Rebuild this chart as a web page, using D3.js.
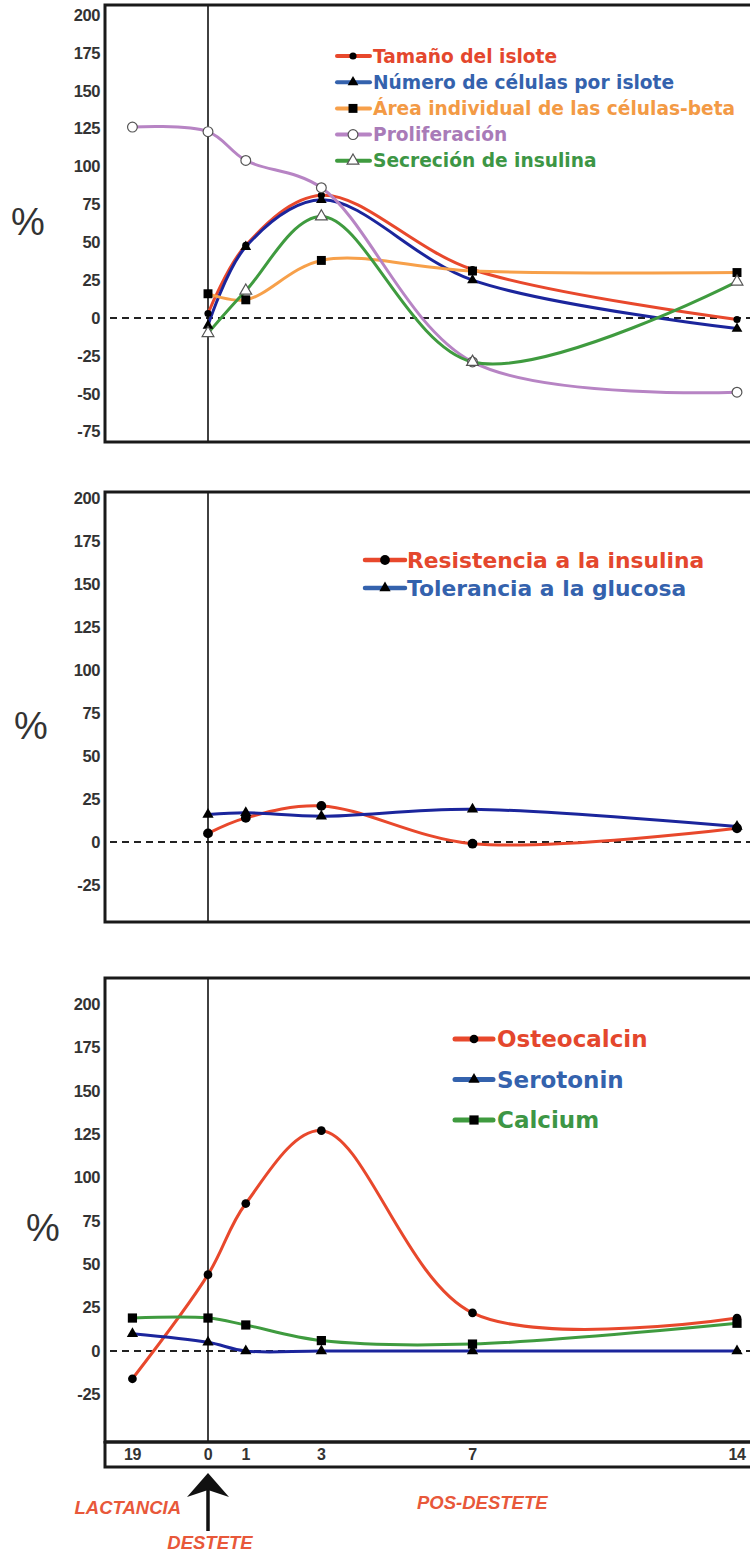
<!DOCTYPE html>
<html>
<head>
<meta charset="utf-8">
<script src="https://cdn.jsdelivr.net/npm/d3@7"></script>
<style>
  body { margin: 0; background: #fff; }
  svg { display: block; font-family: "Liberation Sans", Arial, sans-serif; }
  .legend-text { font-family: "DejaVu Sans", Verdana, sans-serif; }
</style>
</head>
<body>
<svg id="chart"></svg>
<script>
/* DATA */
// x positions: "19" is the last lactation day, plotted two days before weaning
const dayPos = [-2, 0, 1, 3, 7, 14];
const dayLabels = ["19", "0", "1", "3", "7", "14"];

// panel 1 - islote
const tamano = [null, 3, 48, 81, 32, -1];
const numero = [null, -5, 47, 78, 25, -7];
const area = [null, 16, 12, 38, 31, 30];
const prolif = [126, 123, 104, 86, -29, -49];
const secrecion = [null, -10, 18, 67, -29, 24];

// panel 2 - sensibilidad
const resistencia = [null, 5, 14, 21, -1, 8];
const tolerancia = [null, 16, 17, 15, 19, 9];

// panel 3 - hueso
const osteocalcin = [-16, 44, 85, 127, 22, 19];
const serotonin = [10, 5, 0, 0, 0, 0];
const calcium = [19, 19, 15, 6, 4, 16];

const yTicks = [-75, -50, -25, 0, 25, 50, 75, 100, 125, 150, 175, 200];

/* LAYOUT */
const width = 750, height = 1554;
const frameLeft = 105, frameRight = 760;

const svg = d3.select("#chart").attr("width", width).attr("height", height);

const x = d3.scaleLinear().domain([0, 14]).range([208, 737]);

const panels = [
  { top: 5, bottom: 442, zero: 318, y200: 15, pct: [28, 222],
    legend: { x0: 337, x1: 370, mx: 353, tx: 373, y: 56, dy: 26.2, font: 18.6, lw: 4 },
    series: [
      { name: "Tamaño del islote", values: tamano, color: "#e8482c", text: "#e4472d", legendLine: "#e8482c", shape: d3.symbolCircle, size: 40, fill: "#000" },
      { name: "Número de células por islote", values: numero, color: "#1b259c", text: "#3462ad", legendLine: "#3462ad", shape: d3.symbolTriangle, size: 50, fill: "#000" },
      { name: "Área individual de las células-beta", values: area, color: "#f7a04a", text: "#f39a45", legendLine: "#f7a04a", shape: d3.symbolSquare, size: 80, fill: "#000" },
      { name: "Proliferación", values: prolif, color: "#b784c4", text: "#a97bb8", legendLine: "#b784c4", shape: d3.symbolCircle, size: 75, fill: "#fff" },
      { name: "Secreción de insulina", values: secrecion, color: "#3f9b3f", text: "#3d9645", legendLine: "#3f9b3f", shape: d3.symbolTriangle, size: 60, fill: "#fff" }
    ] },
  { top: 492, bottom: 922, zero: 842, y200: 498, pct: [31, 726],
    legend: { x0: 365, x1: 405, mx: 385, tx: 407, y: 560, dy: 28, font: 21.8, lw: 4.5 },
    series: [
      { name: "Resistencia a la insulina", values: resistencia, color: "#e8482c", text: "#e4472d", legendLine: "#e8482c", shape: d3.symbolCircle, size: 75, fill: "#000" },
      { name: "Tolerancia a la glucosa", values: tolerancia, color: "#1b259c", text: "#3462ad", legendLine: "#3462ad", shape: d3.symbolTriangle, size: 55, fill: "#000" }
    ] },
  { top: 978, bottom: 1442, zero: 1351, y200: 1004, pct: [43, 1228],
    legend: { x0: 455, x1: 493, mx: 474, tx: 497, y: 1039, dy: 40.5, font: 23, lw: 5 },
    series: [
      { name: "Osteocalcin", values: osteocalcin, color: "#e8482c", text: "#e4472d", legendLine: "#e8482c", shape: d3.symbolCircle, size: 60, fill: "#000" },
      { name: "Serotonin", values: serotonin, color: "#1b259c", text: "#3462ad", legendLine: "#3462ad", shape: d3.symbolTriangle, size: 55, fill: "#000" },
      { name: "Calcium", values: calcium, color: "#3f9b3f", text: "#3d9645", legendLine: "#3f9b3f", shape: d3.symbolSquare, size: 85, fill: "#000" }
    ] }
];

const line = d3.line()
  .x(d => x(d.day))
  .y(d => d.yv)
  .curve(d3.curveCatmullRom.alpha(0.5));

panels.forEach(p => {
  const y = d3.scaleLinear().domain([0, 200]).range([p.zero, p.y200]);
  const g = svg.append("g");

  // y tick labels (only those well inside the frame)
  const ticks = yTicks.filter(t => y(t) > p.top + 4 && y(t) < p.bottom - 8);
  g.selectAll(".tick")
    .data(ticks)
    .enter()
    .append("text")
      .attr("x", frameLeft - 5)
      .attr("y", d => y(d))
      .attr("dy", "0.35em")
      .attr("text-anchor", "end")
      .attr("font-size", 16.5)
      .attr("font-weight", "bold")
      .attr("letter-spacing", "-0.4")
      .attr("fill", "#333")
      .text(d => d);

  // % label
  g.append("text")
    .attr("x", p.pct[0])
    .attr("y", p.pct[1])
    .attr("dy", "0.35em")
    .attr("text-anchor", "middle")
    .attr("font-size", 38)
    .attr("fill", "#333")
    .text("%");

  // zero line
  g.append("line")
    .attr("x1", frameLeft + 5).attr("x2", frameRight)
    .attr("y1", y(0)).attr("y2", y(0))
    .attr("stroke", "#222")
    .attr("stroke-width", 2)
    .attr("stroke-dasharray", "7,5");

  // weaning line
  g.append("line")
    .attr("x1", x(0)).attr("x2", x(0))
    .attr("y1", p.top).attr("y2", p.bottom)
    .attr("stroke", "#111")
    .attr("stroke-width", 1.6);

  // frame
  g.append("path")
    .attr("d", `M${frameRight},${p.top}H${frameLeft}V${p.bottom}H${frameRight}`)
    .attr("fill", "none")
    .attr("stroke", "#1a1a1a")
    .attr("stroke-width", 3);

  // series lines
  p.series.forEach(s => {
    const pts = s.values
      .map((v, i) => ({ day: dayPos[i], v: v }))
      .filter(d => d.v !== null)
      .map(d => ({ day: d.day, v: d.v, yv: y(d.v) }));
    g.append("path")
      .datum(pts)
      .attr("d", line)
      .attr("fill", "none")
      .attr("stroke", s.color)
      .attr("stroke-width", 3);
  });

  // markers on top
  p.series.forEach(s => {
    const sym = d3.symbol().type(s.shape).size(s.size);
    g.selectAll(null)
      .data(s.values.map((v, i) => ({ day: dayPos[i], v: v })).filter(d => d.v !== null))
      .enter()
      .append("path")
        .attr("d", sym)
        .attr("transform", d => `translate(${x(d.day)},${y(d.v)})`)
        .attr("fill", s.fill)
        .attr("stroke", s.fill === "#fff" ? "#555" : "none")
        .attr("stroke-width", 1.2);
  });

  // legend
  const L = p.legend;
  p.series.forEach((s, i) => {
    const ly = L.y + i * L.dy;
    g.append("line")
      .attr("x1", L.x0).attr("x2", L.x1)
      .attr("y1", ly).attr("y2", ly)
      .attr("stroke", s.legendLine)
      .attr("stroke-width", L.lw)
      .attr("stroke-linecap", "round");
    g.append("path")
      .attr("d", d3.symbol().type(s.shape).size(s.size)())
      .attr("transform", `translate(${L.mx},${ly})`)
      .attr("fill", s.fill)
      .attr("stroke", s.fill === "#fff" ? "#555" : "none")
      .attr("stroke-width", 1.2);
    g.append("text")
      .attr("class", "legend-text")
      .attr("x", L.tx)
      .attr("y", ly)
      .attr("dy", "0.36em")
      .attr("font-size", L.font)
      .attr("font-weight", "bold")
      .attr("fill", s.text)
      .text(s.name);
  });
});

/* X AXIS BAND */
const band = { top: 1442, bottom: 1467 };
svg.append("path")
  .attr("d", `M${frameRight},${band.top}H${frameLeft}M${frameLeft},${band.top - 1}V${band.bottom}H${frameRight}`)
  .attr("fill", "none")
  .attr("stroke", "#1a1a1a")
  .attr("stroke-width", 3);

svg.selectAll(".xlab")
  .data(dayLabels)
  .enter()
  .append("text")
    .attr("x", (d, i) => x(dayPos[i]))
    .attr("y", (band.top + band.bottom) / 2)
    .attr("dy", "0.36em")
    .attr("text-anchor", "middle")
    .attr("font-size", 16)
    .attr("font-weight", "bold")
    .attr("letter-spacing", "-0.4")
    .attr("fill", "#333")
    .text(d => d);

// weaning arrow
const ax = x(0);
svg.append("path")
  .attr("d", `M${ax},1473 L${ax + 21},1497 L${ax},1490 L${ax - 21},1497 Z`)
  .attr("fill", "#111");
svg.append("line")
  .attr("x1", ax).attr("x2", ax)
  .attr("y1", 1488).attr("y2", 1531)
  .attr("stroke", "#111")
  .attr("stroke-width", 3.5);

const phaseLabels = [
  { text: "LACTANCIA", x: 181, y: 1508, anchor: "end" },
  { text: "DESTETE", x: 210, y: 1543, anchor: "middle" },
  { text: "POS-DESTETE", x: 417, y: 1503, anchor: "start" }
];
svg.selectAll(".phase")
  .data(phaseLabels)
  .enter()
  .append("text")
    .attr("x", d => d.x)
    .attr("y", d => d.y)
    .attr("dy", "0.35em")
    .attr("text-anchor", d => d.anchor)
    .attr("font-size", 18.5)
    .attr("font-weight", "bold")
    .attr("font-style", "italic")
    .attr("fill", "#e8583a")
    .text(d => d.text);
</script>
</body>
</html>
